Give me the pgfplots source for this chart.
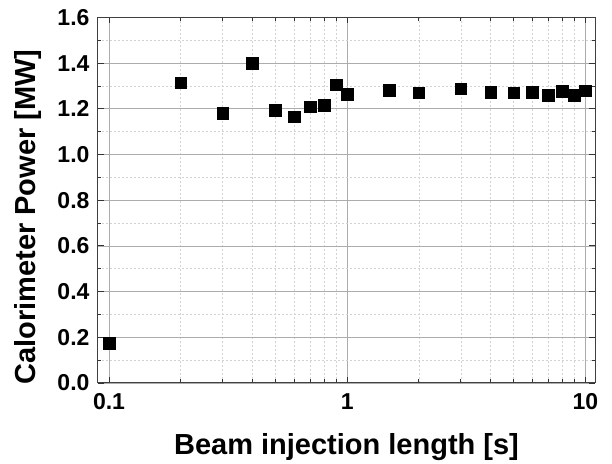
\documentclass[border=0pt]{standalone}
\usepackage{fontspec}
\setmainfont{Liberation Sans}
\usepackage{pgfplots}
\pgfplotsset{compat=1.18}
\usetikzlibrary{calc}
\begin{document}
\begin{tikzpicture}
\begin{axis}[
 scale only axis, width=497pt, height=365.5pt,
 xmode=log, xmin=0.0899, xmax=10.98, ymin=0, ymax=1.6,
 xtick={0.1,1,10}, xticklabels={0.1,1,10},
 ytick={0,0.2,...,1.6}, minor y tick num=1,
 grid=both,
 major grid style={gray!65, line width=0.8pt},
 minor grid style={gray!35, line width=0.6pt, dash pattern=on 2pt off 2pt},
 axis line style={black!75, line width=1pt},
 tick style={black!80, line width=0.9pt},
 major tick length=6pt, minor tick length=3.5pt,
 tick align=inside,
 ticklabel style={font=\fontsize{23}{26}\selectfont\bfseries},
 /pgf/number format/assume math mode=true,
 yticklabel style={/pgf/number format/.cd, fixed, fixed zerofill, precision=1, /tikz/xshift=-5pt},
 xticklabel style={yshift=-7pt},
 label style={font=\fontsize{29}{33}\selectfont\bfseries},
 xlabel={Beam injection length [s]},
 ylabel={Calorimeter Power [MW]},
 xlabel style={at={(axis description cs:0.5,-0.1751)}, anchor=center},
 ylabel style={at={(axis description cs:-0.1400,0.454)}, anchor=center},
]
\addplot[only marks, mark=square*, mark size=5.8pt, black] table {
x y
0.1 0.174
0.2 1.315
0.3 1.181
0.4 1.400
0.5 1.195
0.6 1.166
0.7 1.210
0.8 1.217
0.9 1.306
1.0 1.264
1.5 1.281
2 1.270
3 1.289
4 1.273
5 1.270
6 1.274
7 1.261
8 1.278
9 1.261
10 1.280
};
\end{axis}
\pgfresetboundingbox
\path ($(current axis.south west)+(-98pt,-81pt)$) rectangle ($(current axis.north east)+(17pt,17.5pt)$);
\end{tikzpicture}
\end{document}
